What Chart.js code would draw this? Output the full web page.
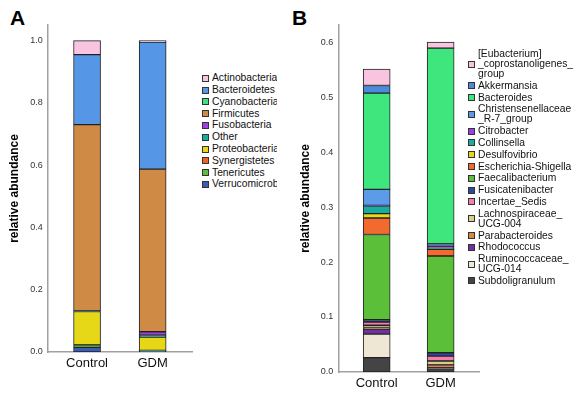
<!DOCTYPE html>
<html><head><meta charset="utf-8">
<script src="https://cdn.jsdelivr.net/npm/chart.js@4.4.1/dist/chart.umd.min.js"></script>
<style>
body{margin:0;width:583px;height:418px;background:#fff;position:relative;overflow:hidden;font-family:"Liberation Sans",Arial,sans-serif;}
canvas{position:absolute;top:0}
.panel{position:absolute;font-weight:bold;font-size:21px;line-height:21px;color:#000}
.legend{position:absolute;font-size:10.3px;color:#111;overflow:hidden}
.item{display:flex;align-items:center;line-height:10px;margin-bottom:1.8px;white-space:nowrap}
.box{width:5px;height:5px;border:1px solid #333;margin-right:3px;flex:none}
</style></head>
<body>
<div class="panel" style="left:10px;top:7px">A</div>
<div class="panel" style="left:292px;top:7px">B</div>
<canvas id="ca" width="195" height="400" style="left:0"></canvas>
<canvas id="cb" width="192" height="400" style="left:290px"></canvas>
<div class="legend" id="la" style="left:202px;top:73.3px;width:75px"></div>
<div class="legend" id="lb" style="left:468px;top:49px;width:115px"></div>
<script>
const categories = ['Control', 'GDM'];

const phylaNames = ['Actinobacteria','Bacteroidetes','Cyanobacteria','Firmicutes','Fusobacteria','Other','Proteobacteria','Synergistetes','Tenericutes','Verrucomicrobia'];
const phylaControl = [0.045, 0.225, 0.000, 0.598, 0.000, 0.002, 0.107, 0.000, 0.008, 0.015];
const phylaGDM     = [0.005, 0.408, 0.000, 0.522, 0.011, 0.006, 0.043, 0.000, 0.001, 0.004];
const phylaColors  = ['#f9c4df','#5597e6','#3fe27f','#cf8a45','#a23fe6','#17ae9f','#e6d817','#f0622a','#5bbf3a','#3a5cb5'];

const genusNames = ['[Eubacterium]\n_coprostanoligenes_\ngroup','Akkermansia','Bacteroides','Christensenellaceae\n_R-7_group','Citrobacter','Collinsella','Desulfovibrio','Escherichia-Shigella','Faecalibacterium','Fusicatenibacter','Incertae_Sedis','Lachnospiraceae_\nUCG-004','Parabacteroides','Rhodococcus','Ruminococcaceae_\nUCG-014','Subdoligranulum'];
const genusControl = [0.030, 0.014, 0.175, 0.029, 0.001, 0.014, 0.008, 0.030, 0.155, 0.004, 0.006, 0.004, 0.003, 0.009, 0.043, 0.026];
const genusGDM     = [0.011, 0.000, 0.356, 0.004, 0.004, 0.002, 0.000, 0.012, 0.176, 0.006, 0.009, 0.007, 0.005, 0.001, 0.001, 0.006];
const genusColors  = ['#f9c4df','#4a8bdc','#3fe67e','#5c9be8','#9a40e0','#17ae9f','#e6d817','#f26a2e','#5bbf3a','#2e4a9e','#f57fb0','#d8ce8c','#d58a3e','#7030a0','#ede7d4','#444444'];

const yTicksA = [0.0, 0.2, 0.4, 0.6, 0.8, 1.0];
const yTicksB = [0.0, 0.1, 0.2, 0.3, 0.4, 0.5, 0.6];

const FONT = '"Liberation Sans", Arial, sans-serif';

function makeDatasets(names, ctrl, gdm, colors) {
  const ds = names.map((n, k) => ({
    label: n.replace(/\n/g, ''),
    data: categories.map((c, i) => ({x: i, y: (i === 0 ? ctrl : gdm)[k]})),
    backgroundColor: colors[k],
    borderColor: '#222',
    borderWidth: 1,
    borderSkipped: false,
    barThickness: 27
  }));
  return ds.reverse();
}

function makeChart(id, datasets, yMax, yTicks, yWidth, xHeight, titlePad) {
  return new Chart(document.getElementById(id), {
    type: 'bar',
    data: {datasets},
    options: {
      responsive: false,
      animation: false,
      devicePixelRatio: 1,
      layout: {padding: {top: 25, right: 3, left: 0, bottom: 0}},
      plugins: {legend: {display: false}, tooltip: {enabled: false}},
      scales: {
        x: {
          type: 'linear', stacked: true, min: -0.6, max: 1.6, offset: false, bounds: 'data',
          grid: {display: false, drawTicks: false, offset: false},
          border: {display: true, color: '#a0a0a0', width: 1.5},
          afterBuildTicks: s => { s.ticks = categories.map((c, i) => ({value: i})); },
          afterFit: s => { s.height = xHeight; },
          ticks: {padding: 4, color: '#111', font: {family: FONT, size: 13},
                  callback: v => categories[v]}
        },
        y: {
          stacked: true, min: 0, max: yMax,
          grid: {display: false, drawTicks: false},
          border: {display: true, color: '#a0a0a0', width: 1.5},
          afterBuildTicks: s => { s.ticks = yTicks.map(v => ({value: v})); },
          afterFit: s => { s.width = yWidth; },
          ticks: {padding: 5, color: '#333', font: {family: FONT, size: 9},
                  callback: v => Number(v).toFixed(1)},
          title: {display: true, text: 'relative abundance', color: '#000',
                  padding: {top: titlePad, bottom: 0},
                  font: {family: FONT, size: 12, weight: 'bold'}}
        }
      }
    }
  });
}

makeChart('ca', makeDatasets(phylaNames, phylaControl, phylaGDM, phylaColors), 1.05, yTicksA, 47.7, 48, 7);
makeChart('cb', makeDatasets(genusNames, genusControl, genusGDM, genusColors), 0.631, yTicksB, 48.3, 28, 8);

function buildLegend(id, names, colors) {
  const el = document.getElementById(id);
  names.forEach((n, k) => {
    const it = document.createElement('div'); it.className = 'item';
    const b = document.createElement('span'); b.className = 'box'; b.style.background = colors[k];
    const t = document.createElement('span');
    n.split('\n').forEach((line, j) => {
      if (j) t.appendChild(document.createElement('br'));
      t.appendChild(document.createTextNode(line));
    });
    it.appendChild(b); it.appendChild(t); el.appendChild(it);
  });
}
buildLegend('la', phylaNames, phylaColors);
buildLegend('lb', genusNames, genusColors);
</script>
</body></html>
